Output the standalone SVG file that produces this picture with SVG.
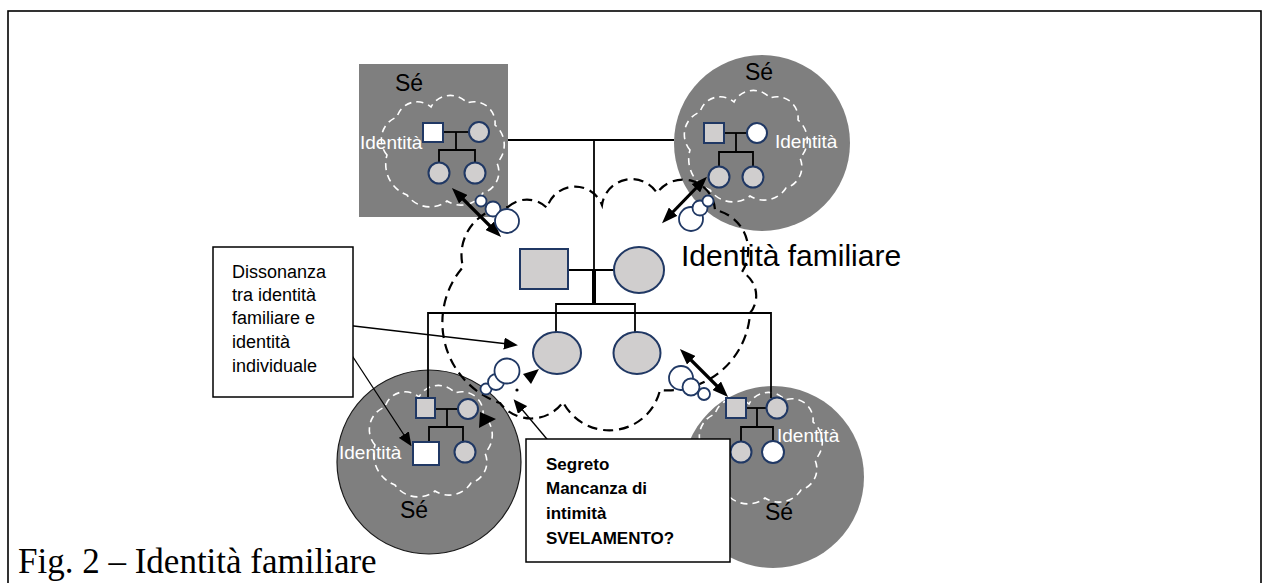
<svg xmlns="http://www.w3.org/2000/svg" width="1263" height="583" viewBox="0 0 1263 583">
<style>
.self{fill:#7f7f7f;}
.selfo{fill:#7f7f7f;stroke:#1a1a1a;stroke-width:1.2;}
.wcloud{fill:none;stroke:#ffffff;stroke-width:1.6;stroke-dasharray:7 5;}
.bcloud{fill:none;stroke:#000;stroke-width:2.2;stroke-dasharray:10 6;}
.ped{fill:none;stroke:#000;stroke-width:1.8;}
.sym{fill:#d0cece;stroke:#203864;stroke-width:2;}
.symw{fill:#ffffff;stroke:#203864;stroke-width:2;}
.bub{fill:#ffffff;stroke:#203864;stroke-width:1.8;}
.se{font-family:"Liberation Sans",Arial,sans-serif;font-size:23px;fill:#000;}
.idw{font-family:"Liberation Sans",Arial,sans-serif;font-size:19px;fill:#ffffff;}
.big{font-family:"Liberation Sans",Arial,sans-serif;font-size:30px;fill:#000;}
.box{fill:#ffffff;stroke:#000;stroke-width:1.5;}
.bt{font-family:"Liberation Sans",Arial,sans-serif;font-size:18px;fill:#000;}
.bb{font-family:"Liberation Sans",Arial,sans-serif;font-size:17px;font-weight:bold;fill:#000;}
.dbl{stroke:#000;stroke-width:3.2;fill:none;}
.thin{stroke:#000;stroke-width:1.3;fill:none;}
.cap{font-family:"Liberation Serif","Times New Roman",serif;font-size:35px;fill:#000;}
</style>
<defs>
<marker id="ah" viewBox="0 0 16 12" refX="6" refY="6" markerWidth="16" markerHeight="12" markerUnits="userSpaceOnUse" orient="auto-start-reverse"><path d="M0,0 L16,6 L0,12 z" fill="#000"/></marker>
<marker id="as" viewBox="0 0 14 12" refX="4" refY="6" markerWidth="14" markerHeight="12" markerUnits="userSpaceOnUse" orient="auto"><path d="M0,0 L14,6 L0,12 z" fill="#000"/></marker>
<path id="wc" d="M12,62 A24 24 0 0 1 22,24 A21 21 0 0 1 56,14 A22 22 0 0 1 92,10 A21 21 0 0 1 120,32 A26 26 0 0 1 122,70 A22 22 0 0 1 108,100 A26 26 0 0 1 72,108 A28 28 0 0 1 32,102 A33 33 0 0 1 12,62 Z"/>
</defs>

<rect id="frame" x="8" y="11" width="1253" height="600" fill="none" stroke="#000" stroke-width="1.6"/>

<!-- Self regions -->
<g id="self-tl">
<rect class="self" x="359" y="64" width="149" height="153"/>
<use href="#wc" class="wcloud" transform="translate(375,93)"/>
</g>
<g id="self-tr">
<circle class="self" cx="762" cy="143" r="88"/>
<use href="#wc" class="wcloud" transform="translate(678,88)"/>
</g>
<g id="self-bl">
<circle class="selfo" cx="429" cy="462" r="92"/>
<use href="#wc" class="wcloud" transform="translate(363,383)"/>
</g>
<g id="self-br">
<circle class="self" cx="773" cy="477" r="91"/>
<use href="#wc" class="wcloud" transform="translate(693,390)"/>
</g>

<!-- central family cloud -->
<g id="family-cloud">
<path class="bcloud" d="M508,207 A28 28 0 0 1 547,208 A29 29 0 0 1 602,205 A30 30 0 0 1 657,193 A32 32 0 0 1 715,210 A41 41 0 0 1 742,272 A27 27 0 0 1 750,313 A82 82 0 0 1 660,390 A52 52 0 0 1 563,402 A39 39 0 0 1 500,403 A85 85 0 0 1 463,267 A48 48 0 0 1 508,207 Z"/>
<text class="big" x="681" y="266">Identità familiare</text>
</g>

<!-- connectors -->
<g id="connectors">
<line class="ped" x1="508" y1="140" x2="674" y2="140"/>
<line class="ped" x1="594" y1="140" x2="594" y2="272"/>
<line x1="594" y1="270" x2="594" y2="304" stroke="#000" stroke-width="4"/>
<line class="ped" x1="568" y1="270" x2="614" y2="270"/>
<polyline class="ped" points="556,332 556,304 635,304 635,332"/>
<polyline class="ped" points="428,398 428,313 771,313 771,398"/>
<!-- double arrows -->
<line class="dbl" x1="459" y1="195" x2="494" y2="230" marker-start="url(#ah)" marker-end="url(#ah)"/>
<line class="dbl" x1="700" y1="184" x2="669" y2="216" marker-start="url(#ah)" marker-end="url(#ah)"/>
<line class="dbl" x1="687" y1="356" x2="721" y2="390" marker-start="url(#ah)" marker-end="url(#ah)"/>
<!-- annotation arrows -->
<line class="thin" x1="328" y1="323" x2="508" y2="344" marker-end="url(#as)"/>
<line class="thin" x1="332" y1="325" x2="406" y2="438" marker-end="url(#as)"/>
<line class="thin" x1="562" y1="457" x2="520" y2="407" marker-end="url(#as)"/>
<polygon points="539,369 523,374 531,384" fill="#000"/>
<polygon points="480,412 496,419 479,428" fill="#000"/>
<circle cx="517" cy="390" r="1.6" fill="#000"/>
</g>

<!-- central pedigree -->
<g id="parents">
<rect class="sym" x="520" y="249" width="48" height="40"/>
<ellipse class="sym" cx="639" cy="270" rx="25" ry="23"/>
</g>
<g id="children">
<ellipse class="sym" cx="557" cy="353" rx="24" ry="21"/>
<ellipse class="sym" cx="637" cy="353" rx="23.5" ry="21"/>
</g>

<!-- TL family -->
<g id="family-tl">
<text class="se" x="395" y="91">Sé</text>
<text class="idw" x="360" y="149">Identità</text>
<line class="ped" x1="443" y1="132" x2="469" y2="132"/>
<polyline class="ped" points="456,132 456,150"/>
<polyline class="ped" points="439,162 439,150 475,150 475,162"/>
<rect class="symw" x="423" y="123" width="20" height="19" stroke="#000" stroke-width="1.5"/>
<circle class="sym" cx="479" cy="132" r="10"/>
<circle class="sym" cx="439" cy="173" r="10.5"/>
<circle class="sym" cx="475" cy="173" r="10.5"/>
</g>

<!-- TR family -->
<g id="family-tr">
<text class="se" x="745" y="80">Sé</text>
<text class="idw" x="775" y="148">Identità</text>
<line class="ped" x1="724" y1="133" x2="747" y2="133"/>
<polyline class="ped" points="736,133 736,152"/>
<polyline class="ped" points="719,167 719,152 753,152 753,167"/>
<rect class="sym" x="704" y="123" width="20" height="20"/>
<circle class="symw" cx="757" cy="133" r="10"/>
<circle class="sym" cx="719" cy="177" r="10.5"/>
<circle class="sym" cx="753" cy="177" r="10.5"/>
</g>

<!-- BL family -->
<g id="family-bl">
<text class="se" x="400" y="518">Sé</text>
<text class="idw" x="339" y="459">Identità</text>
<line class="ped" x1="435" y1="409" x2="458" y2="409"/>
<polyline class="ped" points="447,409 447,427"/>
<polyline class="ped" points="429,442 429,427 463,427 463,442"/>
<rect class="sym" x="416" y="398" width="19" height="20"/>
<circle class="sym" cx="468" cy="409" r="10"/>
<rect class="symw" x="413" y="442" width="26" height="23"/>
<circle class="sym" cx="465" cy="452" r="10.5"/>
</g>

<!-- BR family -->
<g id="family-br">
<text class="se" x="765" y="520">Sé</text>
<text class="idw" x="777" y="442">Identità</text>
<line class="ped" x1="746" y1="408" x2="767" y2="408"/>
<polyline class="ped" points="757,408 757,427"/>
<polyline class="ped" points="741,442 741,427 773,427 773,441"/>
<rect class="sym" x="726" y="398" width="20" height="20"/>
<circle class="sym" cx="777" cy="408" r="10.5"/>
<circle class="sym" cx="741" cy="452" r="10.5"/>
<circle class="symw" cx="773" cy="452" r="11"/>
</g>

<!-- thought bubbles -->
<g id="bubbles-tl">
<circle class="bub" cx="481" cy="201" r="5.5"/>
<circle class="bub" cx="493" cy="209" r="7.5"/>
<circle class="bub" cx="507" cy="221" r="12"/>
</g>
<g id="bubbles-tr">
<circle class="bub" cx="691" cy="219" r="12"/>
<circle class="bub" cx="700" cy="208" r="7.5"/>
<circle class="bub" cx="708" cy="201" r="5.5"/>
</g>
<g id="bubbles-bl">
<circle class="bub" cx="486" cy="389" r="5.5"/>
<circle class="bub" cx="496" cy="382" r="8"/>
<circle class="bub" cx="507" cy="371" r="12.5"/>
</g>
<g id="bubbles-br">
<circle class="bub" cx="681" cy="378" r="12"/>
<circle class="bub" cx="691" cy="387" r="8.5"/>
<circle class="bub" cx="704" cy="394" r="6"/>
</g>

<!-- annotation boxes -->
<g id="box-dissonanza">
<rect class="box" x="213" y="247" width="140" height="150"/>
<text class="bt" x="232" y="278">Dissonanza</text>
<text class="bt" x="232" y="301">tra identità</text>
<text class="bt" x="232" y="324">familiare e</text>
<text class="bt" x="232" y="348">identità</text>
<text class="bt" x="232" y="372">individuale</text>
</g>
<g id="box-segreto">
<rect class="box" x="526" y="439" width="204" height="123"/>
<text class="bb" x="546" y="470">Segreto</text>
<text class="bb" x="546" y="494">Mancanza di</text>
<text class="bb" x="546" y="519">intimità</text>
<text class="bb" x="546" y="544">SVELAMENTO?</text>
</g>

<text class="cap" x="18" y="573">Fig. 2 – Identità familiare</text>
</svg>
